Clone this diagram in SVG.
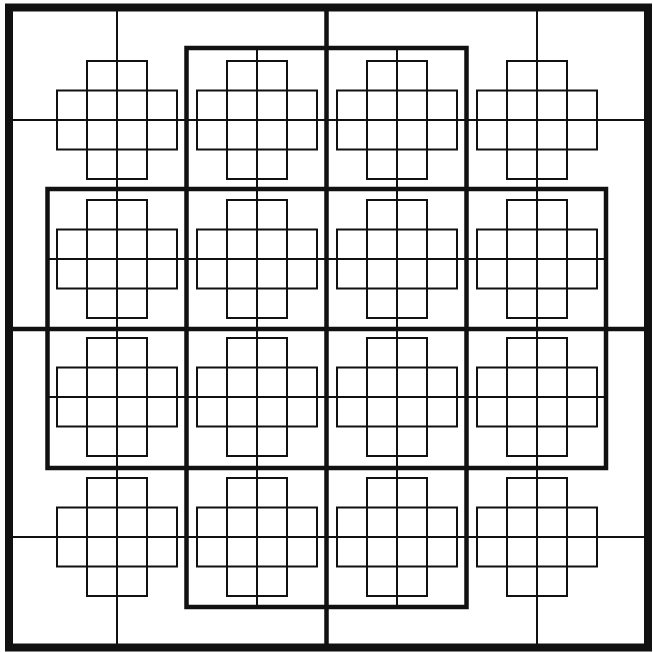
<svg xmlns="http://www.w3.org/2000/svg" width="653" height="652" viewBox="0 0 653 652">
<defs>
<style>
.thin{stroke:#111;stroke-width:2;fill:none}
.thick{stroke:#111;stroke-width:4.5;fill:none}
.border{stroke:#111;stroke-width:8;fill:none}
</style>
<g id="cross" class="thin">
<rect x="-30" y="-59" width="60" height="118"/>
<rect x="-60" y="-29.5" width="120" height="59"/>
<line x1="0" y1="-59" x2="0" y2="59"/>
<line x1="-60" y1="0" x2="60" y2="0"/>
</g>
</defs>
<rect width="653" height="652" fill="#fff"/>
<g id="guides">
<g class="thin">
<line x1="117" y1="10" x2="117" y2="645"/>
<line x1="537" y1="10" x2="537" y2="645"/>
<line x1="10" y1="120" x2="645" y2="120"/>
<line x1="10" y1="537" x2="645" y2="537"/>
<line x1="257" y1="48" x2="257" y2="607"/>
<line x1="397" y1="48" x2="397" y2="607"/>
<line x1="47.5" y1="259" x2="606" y2="259"/>
<line x1="47.5" y1="397" x2="606" y2="397"/>
</g>
<g class="thick">
<line x1="326.5" y1="8" x2="326.5" y2="647"/>
<line x1="9" y1="329" x2="648" y2="329"/>
<rect x="186.5" y="48" width="280" height="559"/>
<rect x="47.5" y="189" width="558.5" height="279"/>
</g>
<rect class="border" x="9" y="7.5" width="639" height="640"/>
</g>
<g id="crosses">
<use href="#cross" x="117" y="120"/>
<use href="#cross" x="257" y="120"/>
<use href="#cross" x="397" y="120"/>
<use href="#cross" x="537" y="120"/>
<use href="#cross" x="117" y="259"/>
<use href="#cross" x="257" y="259"/>
<use href="#cross" x="397" y="259"/>
<use href="#cross" x="537" y="259"/>
<use href="#cross" x="117" y="397"/>
<use href="#cross" x="257" y="397"/>
<use href="#cross" x="397" y="397"/>
<use href="#cross" x="537" y="397"/>
<use href="#cross" x="117" y="537"/>
<use href="#cross" x="257" y="537"/>
<use href="#cross" x="397" y="537"/>
<use href="#cross" x="537" y="537"/>
</g>
</svg>
